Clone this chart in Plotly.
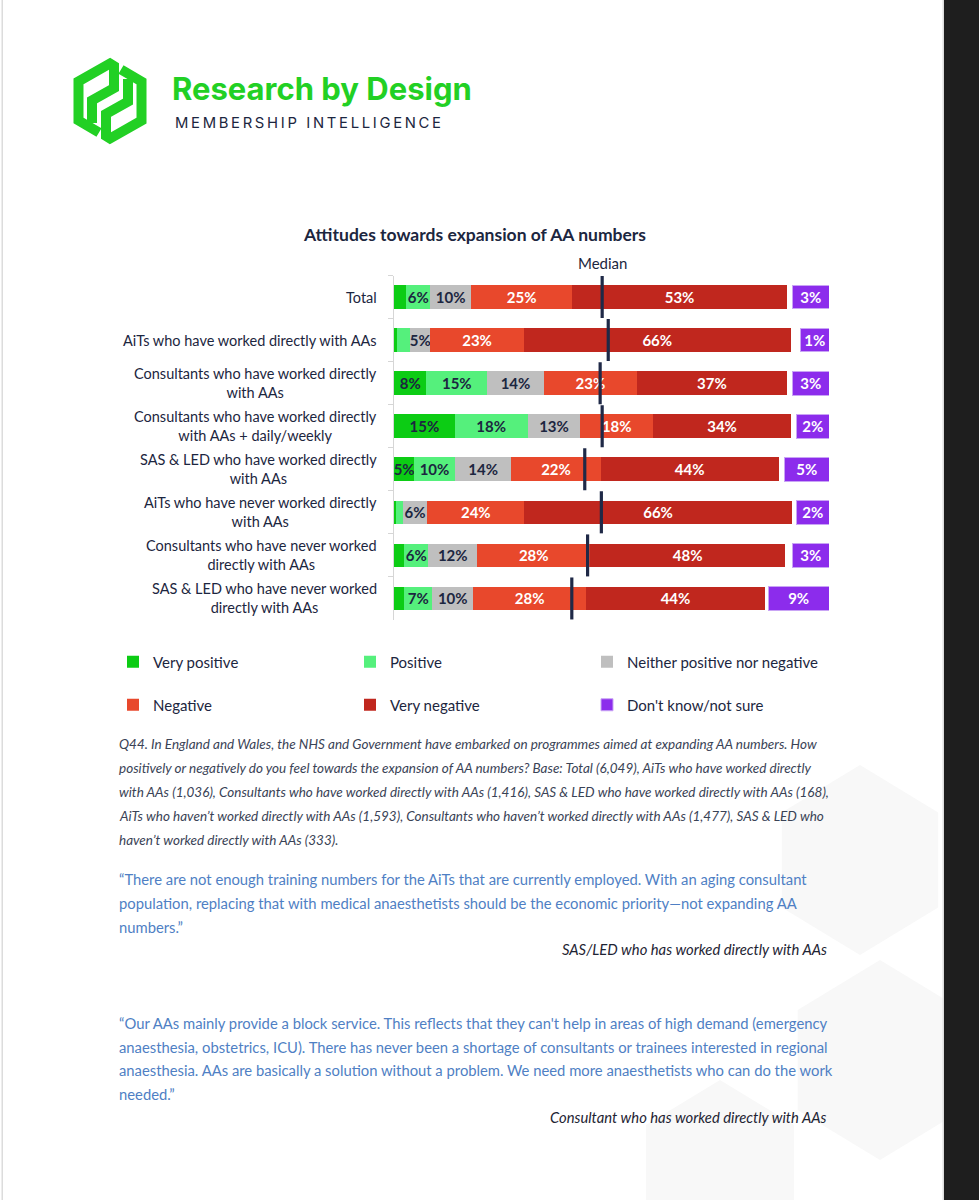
import math
import plotly.graph_objects as go

# ---------------- data ----------------
categories = [
    "Total",
    "AiTs who have worked directly with AAs",
    "Consultants who have worked directly<br>with AAs",
    "Consultants who have worked directly<br>with AAs + daily/weekly",
    "SAS & LED who have worked directly<br>with AAs",
    "AiTs who have never worked directly<br>with AAs",
    "Consultants who have never worked<br>directly with AAs",
    "SAS & LED who have never worked<br>directly with AAs",
]
very_positive = [3, 0.7, 8, 15, 5, 0.4, 2.5, 2.5]
positive = [6, 3.3, 15, 18, 10, 1.8, 6, 7]
neither = [10, 5, 14, 13, 14, 6, 12, 10]
negative = [25, 23, 23, 18, 22, 24, 28, 28]
very_negative = [53, 66, 37, 34, 44, 66, 48, 44]
dont_know = [3, 1, 3, 2, 5, 2, 3, 9]
median = [51.4, 52.9, 50.9, 51.4, 47.1, 51.2, 47.8, 43.9]

series_names = ["Very positive", "Positive", "Neither positive nor negative",
                "Negative", "Very negative", "Don't know/not sure"]

footnote_lines = [
    "Q44. In England and Wales, the NHS and Government have embarked on programmes aimed at expanding AA numbers. How",
    "positively or negatively do you feel towards the expansion of AA numbers? Base: Total (6,049), AiTs who have worked directly",
    "with AAs (1,036), Consultants who have worked directly with AAs (1,416), SAS & LED who have worked directly with AAs (168),",
    "AiTs who haven’t worked directly with AAs (1,593), Consultants who haven’t worked directly with AAs (1,477), SAS & LED who",
    "haven’t worked directly with AAs (333).",
]
quote1_lines = [
    "“There are not enough training numbers for the AiTs that are currently employed. With an aging consultant",
    "population, replacing that with medical anaesthetists should be the economic priority—not expanding AA",
    "numbers.”",
]
quote1_by = "SAS/LED who has worked directly with AAs"
quote2_lines = [
    "“Our AAs mainly provide a block service. This reflects that they can't help in areas of high demand (emergency",
    "anaesthesia, obstetrics, ICU). There has never been a shortage of consultants or trainees interested in regional",
    "anaesthesia. AAs are basically a solution without a problem. We need more anaesthetists who can do the work",
    "needed.”",
]
quote2_by = "Consultant who has worked directly with AAs"

# ---------------- styles ----------------
W, H = 979, 1200
NAVY = "#1c2640"
GREEN_LOGO = "#22d024"
COLORS = ["#0ccc14", "#55f07c", "#bfbfbf", "#e8482c", "#c0271e", "#8c2cec"]
TXT_COL = [NAVY, NAVY, NAVY, "white", "white", "white"]
FONT = "Lato"
PX_PER = 4.05
X0, XR = 394, 829
DK_PAD = 6


def X(px):
    return px / W


def Y(py):
    return 1 - py / H


fig = go.Figure()

stack = [very_positive, positive, neither, negative, very_negative]
for i, vals in enumerate(stack):
    fig.add_trace(go.Bar(
        y=categories, x=vals, orientation="h", name=series_names[i],
        marker=dict(color=COLORS[i], line=dict(width=0)),
        text=[f"{v:.0f}%" if v >= 5 else "" for v in vals],
        textposition="inside", insidetextanchor="middle", textangle=0,
        insidetextfont=dict(family=FONT, size=15, color=TXT_COL[i], weight="bold"),
        width=0.55, hoverinfo="skip",
        legend="legend" if i < 3 else "legend2",
    ))

fig.add_trace(go.Bar(
    y=categories, x=[v + DK_PAD for v in dont_know], orientation="h",
    name=series_names[5], xaxis="x2",
    marker=dict(color=COLORS[5], line=dict(width=1, color="#c9a4f5")),
    text=[f"{v:.0f}%" for v in dont_know],
    textposition="inside", insidetextanchor="middle", textangle=0,
    insidetextfont=dict(family=FONT, size=15, color="white", weight="bold"),
    width=0.55, hoverinfo="skip", legend="legend2",
))

fig.add_trace(go.Scatter(
    y=categories, x=median, mode="markers", showlegend=False, hoverinfo="skip",
    marker=dict(symbol="line-ns", size=30, color="#1f2947",
                line=dict(width=3.2, color="#1f2947")),
))

xmax = (XR - X0) / PX_PER
ann = []
for c in categories:
    ann.append(dict(x=X(379), xref="paper", y=c, yref="y", text=c, showarrow=False,
                    xanchor="right", yanchor="middle", align="center",
                    font=dict(family=FONT, size=14.5, color=NAVY)))
ann.append(dict(x=X(474), y=Y(234), xref="paper", yref="paper", xanchor="center", yanchor="middle",
                text="<b>Attitudes towards expansion of AA numbers</b>", showarrow=False,
                font=dict(family=FONT, size=17.5, color=NAVY)))
ann.append(dict(x=median[0], xref="x", y=Y(263), yref="paper", text="Median",
                xanchor="center", yanchor="middle",
                showarrow=False, font=dict(family=FONT, size=15, color=NAVY)))
for k, line in enumerate(footnote_lines):
    ann.append(dict(x=X(117), y=Y(744 + 24 * k), xref="paper", yref="paper",
                    text=f"<i>{line}</i>", showarrow=False, xanchor="left", yanchor="middle",
                    font=dict(family=FONT, size=13.5, color="#3a4356")))
for k, line in enumerate(quote1_lines):
    ann.append(dict(x=X(117), y=Y(879 + 24 * k), xref="paper", yref="paper",
                    text=line, showarrow=False, xanchor="left", yanchor="middle",
                    font=dict(family=FONT, size=14.8, color="#4f7fc4")))
ann.append(dict(x=X(829), y=Y(949), xref="paper", yref="paper", text=f"<i>{quote1_by}</i>",
                showarrow=False, xanchor="right", yanchor="middle",
                font=dict(family=FONT, size=14.8, color="#1e2433")))
for k, line in enumerate(quote2_lines):
    ann.append(dict(x=X(117), y=Y(1023 + 23.7 * k), xref="paper", yref="paper",
                    text=line, showarrow=False, xanchor="left", yanchor="middle",
                    font=dict(family=FONT, size=14.8, color="#4f7fc4")))
ann.append(dict(x=X(829), y=Y(1117), xref="paper", yref="paper", text=f"<i>{quote2_by}</i>",
                showarrow=False, xanchor="right", yanchor="middle",
                font=dict(family=FONT, size=14.8, color="#1e2433")))
ann.append(dict(x=X(170), y=Y(88), xref="paper", yref="paper", text="<b>Research by Design</b>",
                showarrow=False, xanchor="left", yanchor="middle",
                font=dict(family="Inter", size=31, color=GREEN_LOGO)))
ann.append(dict(x=X(173), y=Y(123), xref="paper", yref="paper",
                text="\u2009".join("MEMBERSHIP INTELLIGENCE"), showarrow=False,
                xanchor="left", yanchor="middle",
                font=dict(family="Inter", size=14.8, color="#1c2640")))


def path(pts, close=False):
    s = "M " + " L ".join(f"{X(a):.5f},{Y(b):.5f}" for a, b in pts)
    return s + (" Z" if close else "")


def hexagon(cx, cy, r):
    return [(cx + r * math.cos(math.radians(90 + 60 * k)) * 0.95,
             cy + r * math.sin(math.radians(90 + 60 * k))) for k in range(6)]


shapes = []
for cx, cy, r in [(860, 860, 95), (880, 1060, 100), (720, 1170, 90)]:
    shapes.append(dict(type="path", xref="paper", yref="paper", path=path(hexagon(cx, cy, r), True),
                       fillcolor="#f8f8f8", line=dict(width=0), layer="below"))
# logo: two interlocking hooks forming a hexagon
pieceA = [(99, 132.5), (78.5, 120.5), (78.5, 81.5), (110, 63.5), (114, 66), (114, 88), (92, 100.5), (92, 123)]
pieceB = [(220 - a, 202 - b) for a, b in pieceA]
for pc in (pieceA, pieceB):
    shapes.append(dict(type="path", xref="paper", yref="paper", path=path(pc),
                       line=dict(width=10, color=GREEN_LOGO)))
# page edges
shapes.append(dict(type="rect", xref="paper", yref="paper", x0=X(944), x1=1.0, y0=0, y1=1,
                   fillcolor="#1e1e1e", line=dict(width=0)))
shapes.append(dict(type="rect", xref="paper", yref="paper", x0=X(942.5), x1=X(944), y0=0, y1=1,
                   fillcolor="#dedede", line=dict(width=0)))
shapes.append(dict(type="rect", xref="paper", yref="paper", x0=X(1.5), x1=X(3), y0=0, y1=1,
                   fillcolor="#dcdcdc", line=dict(width=0)))

legend_common = dict(orientation="h", xanchor="left", yanchor="middle",
                     entrywidth=192, entrywidthmode="pixels",
                     font=dict(family=FONT, size=15, color=NAVY),
                     bgcolor="rgba(0,0,0,0)", traceorder="normal")

fig.update_layout(
    width=W, height=H, margin=dict(l=0, r=0, t=0, b=0),
    paper_bgcolor="white", plot_bgcolor="rgba(0,0,0,0)",
    barmode="stack", bargap=0.45,
    uniformtext=dict(minsize=15, mode="show"),
    xaxis=dict(domain=[X(X0), X(XR)], range=[0, xmax], visible=False, fixedrange=True),
    xaxis2=dict(overlaying="x", range=[xmax, 0], visible=False),
    yaxis=dict(domain=[Y(620), Y(275.5)], type="category", categoryorder="array",
               categoryarray=categories, range=[7.5, -0.5], showticklabels=False,
               ticks="outside", ticklen=5, tickcolor="#d6d6d6", tickson="boundaries",
               showline=True, linecolor="#d6d6d6", linewidth=1, showgrid=False, zeroline=False),
    legend=dict(x=X(113), y=Y(662), **legend_common),
    legend2=dict(x=X(113), y=Y(705), **legend_common),
    annotations=ann, shapes=shapes, showlegend=True,
)

fig.write_html(
    "out.html",
    config={"displayModeBar": False},
    post_script="document.body.style.margin='0';document.body.style.overflow='hidden';",
)
